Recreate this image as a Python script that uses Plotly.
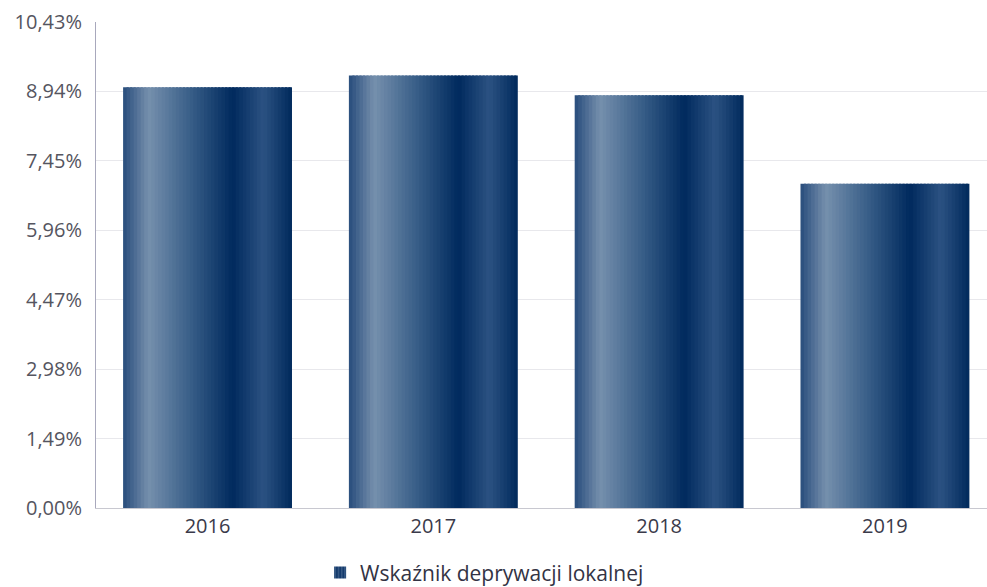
import plotly.graph_objects as go

# ---- data ----
years = ["2016", "2017", "2018", "2019"]
values = [9.03, 9.28, 8.86, 6.96]
tick_values = [0.00, 1.49, 2.98, 4.47, 5.96, 7.45, 8.94, 10.43]
series_name = "Wskaźnik deprywacji lokalnej"

# ---- style ----
tick_text = [f"{v:.2f}".replace(".", ",") + "%" for v in tick_values]
FONT = "Open Sans"
BAR_W = 0.748
N_STRIPES = 48
# horizontal gradient stops across the bar (fraction, rgb)
stops = [
    (0.00, (40, 76, 124)),
    (0.15, (118, 144, 173)),
    (0.40, (56, 94, 136)),
    (0.65, (0, 42, 94)),
    (0.83, (44, 82, 130)),
    (1.00, (0, 42, 92)),
]


def grad(t):
    for (a, ca), (b, cb) in zip(stops[:-1], stops[1:]):
        if a <= t <= b:
            f = (t - a) / (b - a) if b > a else 0
            c = [round(ca[k] + (cb[k] - ca[k]) * f) for k in range(3)]
            return f"rgb({c[0]},{c[1]},{c[2]})"
    return "rgb(0,42,92)"


fig = go.Figure()
sw = BAR_W / N_STRIPES
for i in range(N_STRIPES):
    t = (i + 0.5) / N_STRIPES
    fig.add_trace(go.Bar(
        x=years, y=values,
        offset=-BAR_W / 2 + i * sw,
        width=sw * 1.6 if i < N_STRIPES - 1 else sw,
        marker=dict(color=grad(t), line=dict(width=0)),
        showlegend=False, hoverinfo="skip" if i else "x+y", name=series_name,
    ))

# legend-only entry with striped icon
fig.add_trace(go.Bar(
    x=years, y=[None] * len(years), name=series_name, showlegend=True,
    marker=dict(color="rgb(20,58,108)", line=dict(width=0),
                pattern=dict(shape="|", fgcolor="rgb(130,155,185)", size=4, solidity=0.3)),
))

fig.update_layout(
    width=987, height=587,
    margin=dict(l=96, r=0, t=22, b=79, autoexpand=False),
    paper_bgcolor="white", plot_bgcolor="white",
    barmode="overlay",
    font=dict(family=FONT, size=20, color="#3a3a4a"),
    showlegend=True,
    legend=dict(orientation="h", xref="container", yref="container",
                x=0.491, y=0.024, xanchor="center", yanchor="middle",
                font=dict(family=FONT, size=21, color="#333344"),
                itemclick=False),
)
fig.update_xaxes(
    range=[-0.494, 3.452], showgrid=False, showline=True, automargin=False,
    linecolor="#c8c8d0", linewidth=1, ticks="", ticklabelstandoff=0,
    tickfont=dict(family=FONT, size=20, color="#3a3a4a"),
)
fig.update_yaxes(
    range=[0, 10.43], tickvals=tick_values, ticktext=tick_text, automargin=False,
    showgrid=True, gridcolor="#e8e8ec", gridwidth=1, zeroline=False,
    showline=True, linecolor="#a8a8bc", linewidth=1, ticks="",
    ticklabelstandoff=9,
    tickfont=dict(family=FONT, size=20, color="#555560"),
)

fig.write_html(
    "out.html",
    config={"displayModeBar": False},
    post_script="document.body.style.margin='0';document.body.style.overflow='hidden';",
)
